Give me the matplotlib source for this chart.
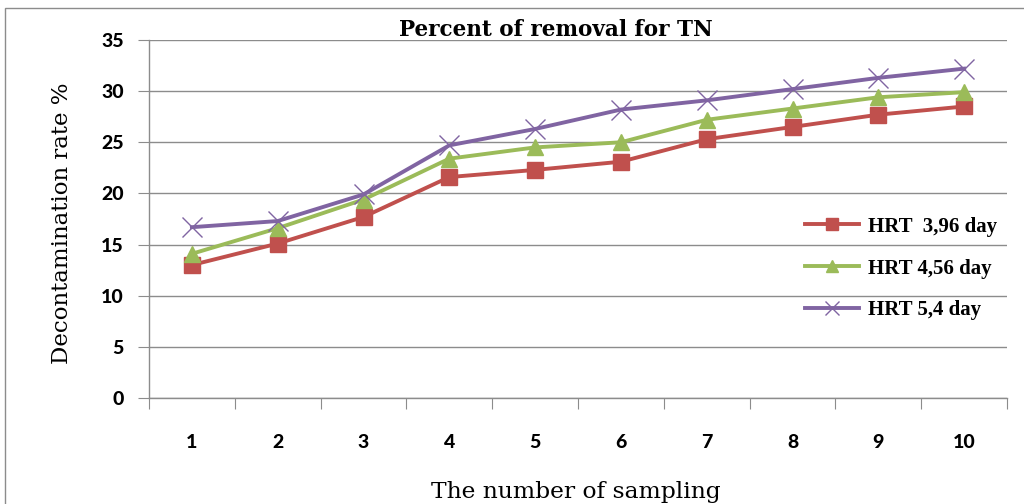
import matplotlib
matplotlib.use("Agg")
import matplotlib.pyplot as plt
from matplotlib.patches import Rectangle

samples = ["1", "2", "3", "4", "5", "6", "7", "8", "9", "10"]
hrt_396 = [13.0, 15.1, 17.7, 21.6, 22.3, 23.1, 25.3, 26.5, 27.7, 28.5]
hrt_456 = [14.1, 16.6, 19.4, 23.4, 24.5, 25.0, 27.2, 28.3, 29.4, 29.9]
hrt_54 = [16.7, 17.3, 19.9, 24.7, 26.3, 28.2, 29.1, 30.2, 31.3, 32.2]
labels = ["HRT  3,96 day", "HRT 4,56 day", "HRT 5,4 day"]
title = "Percent of removal for TN"
xlabel = "The number of sampling"
ylabel = "Decontamination rate %"

W, H = 1024, 504
fig = plt.figure(figsize=(W / 100, H / 100), dpi=100)
fig.patch.set_facecolor("white")
fig.patches.append(Rectangle((5 / W, -0.5), 2.0, 1 - 8 / H + 0.5, transform=fig.transFigure,
                             fill=False, edgecolor="#8c8c8c", linewidth=1.0))

ax = fig.add_axes([149 / W, 1 - 398 / H, (1007 - 149) / W, (398 - 40) / H])
x = list(range(len(samples)))
ax.plot(x, hrt_396, color="#C0504D", lw=2.8, marker="s", ms=12, label=labels[0])
ax.plot(x, hrt_456, color="#9BBB59", lw=2.8, marker="^", ms=12, label=labels[1])
ax.plot(x, hrt_54, color="#8064A2", lw=2.8, marker="x", ms=14, mew=1.0, label=labels[2])

ax.set_xlim(-0.5, len(samples) - 0.5)
ax.set_ylim(0, 35)
ax.set_yticks(range(0, 36, 5))
ax.yaxis.grid(True, color="#8c8c8c", lw=1.0)
ax.set_axisbelow(True)
for s in ["top", "right"]:
    ax.spines[s].set_visible(False)
for s in ["left", "bottom"]:
    ax.spines[s].set_color("#8c8c8c")
    ax.spines[s].set_linewidth(1.0)

tick_font = dict(fontfamily="Lato", fontweight=900, fontsize=14)
ax.set_xticks([i - 0.5 for i in range(len(samples) + 1)])
ax.set_xticklabels([])
ax.set_xticks(x, minor=True)
ax.set_xticklabels(samples, minor=True, **tick_font)
ax.tick_params(axis="x", which="major", length=8, color="#8c8c8c", direction="out")
ax.tick_params(axis="x", which="minor", length=0, pad=26)
ax.tick_params(axis="y", length=8, color="#8c8c8c", pad=10)
for t in ax.get_yticklabels():
    t.set_fontfamily("Lato")
    t.set_fontweight(900)
    t.set_fontsize(14)

fig.text(556 / W, 1 - 30 / H, title, ha="center", va="center", fontfamily="DejaVu Serif",
         fontweight="bold", fontsize=15.5)
fig.text(576 / W, 1 - 492 / H, xlabel, ha="center", va="center", fontfamily="DejaVu Serif",
         fontsize=16.8)
fig.text(62 / W, 1 - 223 / H, ylabel, ha="center", va="center", rotation=90,
         fontfamily="DejaVu Serif", fontsize=16.5)

leg = ax.legend(loc="upper left", bbox_to_anchor=(786 / W, 1 - 198 / H),
                bbox_transform=fig.transFigure, frameon=False,
                prop={"family": "Liberation Serif", "weight": "bold", "size": 15},
                handlelength=2.6, labelspacing=1.05, handletextpad=0.43, markerscale=0.7)
fig.savefig("out.png", dpi=100)
